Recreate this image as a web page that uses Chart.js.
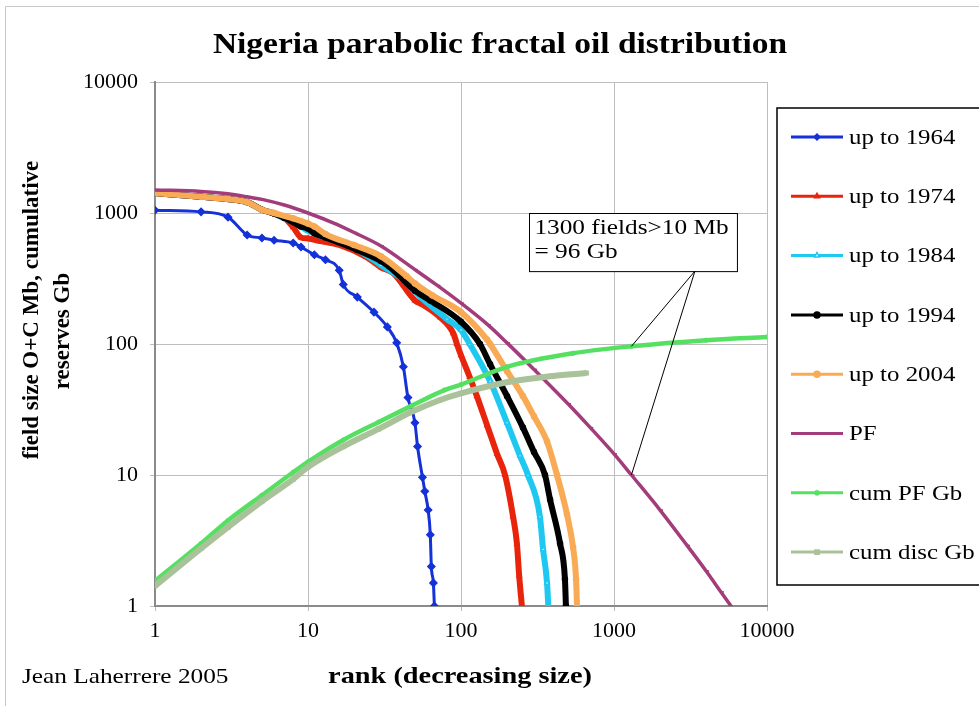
<!DOCTYPE html>
<html>
<head>
<meta charset="utf-8">
<script src="https://cdn.jsdelivr.net/npm/chart.js@4/dist/chart.umd.min.js"></script>
<style>
  html, body { margin: 0; padding: 0; background: #fff; }
  #wrap { width: 979px; height: 706px; }
</style>
</head>
<body>
<div id="wrap"><canvas id="myChart" width="979" height="706"></canvas></div>
<script>
"use strict"

// ---- data (rank, field size Mb / cumulative Gb) ----
const tickValues = [1, 10, 100, 1000, 10000];

const ranks1964 = [1, 2, 3, 4, 5, 6, 8, 9, 11, 13, 16, 17, 21, 27, 33, 38, 42, 45, 50, 52, 56, 58, 61, 63, 64, 66, 67];
const size1964 = [1050, 1020, 930, 680, 645, 620, 590, 550, 480, 440, 365, 285, 228, 175, 135, 102, 67, 39, 25, 16.5, 9.6, 7.5, 5.4, 3.5, 2.0, 1.5, 1.0];

const ranks1974 = [1, 2, 3, 4, 5, 6, 7, 8, 9, 10, 12, 16, 24, 30, 36, 50, 56, 73, 89, 94, 100, 114, 127, 148, 172, 194, 219, 232, 240, 250];
const size1974 = [1420, 1330, 1280, 1210, 1060, 990, 920, 780, 650, 640, 610, 570, 462, 385, 348, 215, 200, 160, 121, 100, 82, 56, 40, 24, 14.5, 10, 4.8, 3.0, 1.7, 1.0];

const ranks1984 = [1, 2, 3, 4, 5, 6, 7, 8, 10, 13, 20, 30, 44, 50, 81, 100, 114, 155, 200, 243, 274, 328, 344, 365, 372];
const size1984 = [1420, 1330, 1280, 1210, 1060, 990, 910, 860, 730, 650, 540, 400, 295, 250, 155, 128, 100, 52, 25, 14, 10, 4.8, 2.7, 1.5, 1.0];

const ranks1994 = [1, 2, 3, 4, 5, 6, 7, 9, 10, 11, 13, 21, 30, 34, 50, 63, 100, 133, 155, 200, 254, 300, 354, 382, 444, 478, 485];
const size1994 = [1420, 1330, 1280, 1210, 1060, 990, 920, 790, 760, 700, 650, 522, 430, 390, 255, 215, 148, 100, 70, 40, 23, 15, 10, 6.5, 3.0, 1.6, 1.0];

const ranks2004 = [1, 2, 3, 4, 5, 6, 8, 10, 11, 13, 20, 30, 44, 50, 65, 100, 148, 155, 200, 254, 300, 365, 424, 493, 540, 565, 573];
const size2004 = [1420, 1330, 1280, 1210, 1060, 1000, 910, 830, 790, 690, 570, 467, 330, 290, 235, 175, 108, 100, 62, 40, 28, 18, 10, 5.0, 2.8, 1.6, 1.0];

const ranksPF = [1, 2, 3, 4, 5, 7, 10, 15, 20, 30, 50, 70, 100, 150, 200, 300, 500, 700, 1000, 1300, 2000, 3000, 4000, 5000, 6000];
const sizePF = [1500, 1460, 1400, 1330, 1270, 1150, 1000, 830, 710, 560, 370, 280, 205, 140, 102, 64, 35, 23, 14.5, 10, 5.4, 2.9, 1.85, 1.28, 0.95];

const ranksCumPF = [1, 2, 3, 5, 8, 10, 17, 29, 48, 78, 100, 200, 540, 1300, 4000, 10000];
const cumPF = [1.55, 3.0, 4.5, 7.0, 10.5, 12.6, 18.5, 25.4, 34, 44.5, 49, 67, 85, 96, 107, 113];

const ranksCumDisc = [1, 2, 3, 5, 8, 10, 17, 29, 48, 73, 100, 200, 400, 660];
const cumDisc = [1.42, 2.75, 4.0, 6.3, 9.3, 11.5, 16.5, 22.5, 30.5, 37.4, 42, 51, 57, 60];

const seriesNames = ["up to 1964", "up to 1974", "up to 1984", "up to 1994", "up to 2004", "PF", "cum PF Gb", "cum disc Gb"];

// annotation: 1300 fields above 10 Mb, 96 Gb cumulative
const noteLines = ["1300 fields>10 Mb", "= 96 Gb"];
const noteTargets = [{ x: 1300, y: 96 }, { x: 1300, y: 10 }];

const SERIF = "'Liberation Serif', 'Times New Roman', serif";

function toPoints(ranks, values) {
    return ranks.map((r, i) => ({ x: r, y: values[i] }));
}

// the original text looks a bit wide, so stretch it horizontally
function drawWide(ctx, text, x, y, font, align, sx) {
    ctx.save();
    ctx.font = font;
    ctx.textAlign = align;
    ctx.textBaseline = "middle";
    ctx.translate(x, y);
    ctx.scale(sx, 1);
    ctx.fillText(text, 0, 0);
    ctx.restore();
}

const styles = [
    { color: "#1432d8", width: 3, point: "rectRot", radius: 3.5, fill: "#1432d8" },
    { color: "#e8250c", width: 6, point: "triangle", radius: 4, fill: "#e8250c" },
    { color: "#1ec8f0", width: 6, point: "triangle", radius: 4, fill: "#ffffff" },
    { color: "#000000", width: 6, point: "circle", radius: 3.5, fill: "#000000" },
    { color: "#f8aa55", width: 6, point: "circle", radius: 3.5, fill: "#f8aa55" },
    { color: "#a33c7a", width: 3.5, point: "dash", radius: 3, fill: "#a33c7a" },
    { color: "#55e062", width: 4.5, point: "star", radius: 3.5, fill: "#55e062" },
    { color: "#a9c29a", width: 6, point: "rect", radius: 3, fill: "#a9c29a" }
];

const seriesData = [
    toPoints(ranks1964, size1964),
    toPoints(ranks1974, size1974),
    toPoints(ranks1984, size1984),
    toPoints(ranks1994, size1994),
    toPoints(ranks2004, size2004),
    toPoints(ranksPF, sizePF),
    toPoints(ranksCumPF, cumPF),
    toPoints(ranksCumDisc, cumDisc)
];

const datasets = seriesData.map((pts, i) => ({
    label: seriesNames[i],
    data: pts,
    borderColor: styles[i].color,
    backgroundColor: styles[i].fill,
    borderWidth: styles[i].width,
    pointStyle: styles[i].point,
    pointRadius: i === 0 || i === 5 ? styles[i].radius : 2.5,
    pointBorderColor: styles[i].color,
    pointBackgroundColor: styles[i].fill,
    pointBorderWidth: 1.5,
    cubicInterpolationMode: "monotone",
    order: seriesNames.length - i
}));

// extra drawing: titles, credit, annotation box, legend box
const extras = {
    id: "extras",
    afterDraw(chart) {
        const ctx = chart.ctx;
        const xs = chart.scales.x;
        const ys = chart.scales.y;
        ctx.save();

        // outer frame (only top and left visible)
        ctx.strokeStyle = "#c8c8c8";
        ctx.lineWidth = 1;
        ctx.beginPath();
        ctx.moveTo(5.5, 706);
        ctx.lineTo(5.5, 6.5);
        ctx.lineTo(979, 6.5);
        ctx.stroke();

        ctx.fillStyle = "#000";

        // chart title
        drawWide(ctx, "Nigeria parabolic fractal oil distribution", 500, 45, "bold 30px " + SERIF, "center", 1.115);

        // x axis title and credit
        drawWide(ctx, "rank (decreasing size)", 460, 677, "bold 24px " + SERIF, "center", 1.18);
        drawWide(ctx, "Jean Laherrere 2005", 22, 677, "22px " + SERIF, "left", 1.15);

        // y axis title
        ctx.font = "bold 23px " + SERIF;
        ctx.textAlign = "center";
        ctx.textBaseline = "middle";
        ctx.save();
        ctx.translate(32, 310);
        ctx.rotate(-Math.PI / 2);
        ctx.fillText("field size O+C Mb, cumulative", 0, 0);
        ctx.restore();
        ctx.save();
        ctx.translate(63, 331);
        ctx.rotate(-Math.PI / 2);
        ctx.fillText("reserves Gb", 0, 0);
        ctx.restore();

        // annotation box with leader lines
        const bx0 = xs.getPixelForValue(280);
        const bx1 = xs.getPixelForValue(6400);
        const by0 = ys.getPixelForValue(1000);
        const by1 = ys.getPixelForValue(360);
        const ax = xs.getPixelForValue(3380);
        ctx.strokeStyle = "#000";
        ctx.lineWidth = 1;
        ctx.beginPath();
        noteTargets.forEach(t => {
            ctx.moveTo(ax, by1);
            ctx.lineTo(xs.getPixelForValue(t.x), ys.getPixelForValue(t.y));
        });
        ctx.stroke();
        ctx.fillStyle = "#fff";
        ctx.fillRect(bx0, by0, bx1 - bx0, by1 - by0);
        ctx.strokeRect(Math.round(bx0) + 0.5, Math.round(by0) + 0.5, bx1 - bx0, by1 - by0);
        ctx.fillStyle = "#000";
        noteLines.forEach((t, i) => drawWide(ctx, t, bx0 + 5, by0 + 15 + i * 24, "22px " + SERIF, "left", 1.15));

        // legend box
        ctx.strokeStyle = "#000";
        ctx.lineWidth = 1.5;
        ctx.strokeRect(777, 108, 240, 477);
        seriesNames.forEach((name, i) => {
            const y = 137 + i * 59.3;
            const s = styles[i];
            ctx.strokeStyle = s.color;
            ctx.lineWidth = 3;
            ctx.beginPath();
            ctx.moveTo(791, y);
            ctx.lineTo(843, y);
            ctx.stroke();
            if (i !== 5) {
                ctx.fillStyle = s.fill;
                ctx.strokeStyle = s.color;
                ctx.lineWidth = 1.5;
                Chart.helpers.drawPoint(ctx, {
                    pointStyle: s.point,
                    radius: 3,
                    rotation: 0,
                    borderWidth: 1.5
                }, 817, y);
            }
            ctx.fillStyle = "#000";
            drawWide(ctx, name, 849, y + 1, "22px " + SERIF, "left", 1.13);
        });

        ctx.restore();
    }
};

const ctx = document.getElementById("myChart").getContext("2d");
const myChart = new Chart(ctx, {
    type: "line",
    data: { datasets: datasets },
    options: {
        responsive: false,
        animation: false,
        layout: { padding: { left: 0, right: 212, top: 82, bottom: 0 } },
        plugins: {
            legend: { display: false },
            tooltip: { enabled: false },
            title: { display: false }
        },
        scales: {
            x: {
                type: "logarithmic",
                min: 1,
                max: 10000,
                afterBuildTicks: axis => { axis.ticks = tickValues.map(v => ({ value: v })); },
                afterFit: axis => { axis.height = 100; },
                ticks: {
                    color: "#000",
                    font: { family: SERIF, size: 22 },
                    padding: 7,
                    maxRotation: 0,
                    callback: v => String(v)
                },
                grid: { color: "#bdbdbd", lineWidth: 1, tickLength: 5 },
                border: { color: "#8a8a8a", width: 2 }
            },
            y: {
                type: "logarithmic",
                min: 1,
                max: 10000,
                afterBuildTicks: axis => { axis.ticks = tickValues.map(v => ({ value: v })); },
                afterFit: axis => { axis.width = 155; },
                ticks: {
                    color: "#000",
                    font: { family: SERIF, size: 22 },
                    padding: 12,
                    callback: v => String(v)
                },
                grid: { color: "#bdbdbd", lineWidth: 1, tickLength: 5 },
                border: { color: "#8a8a8a", width: 2 }
            }
        }
    },
    plugins: [extras]
});
</script>
</body>
</html>
